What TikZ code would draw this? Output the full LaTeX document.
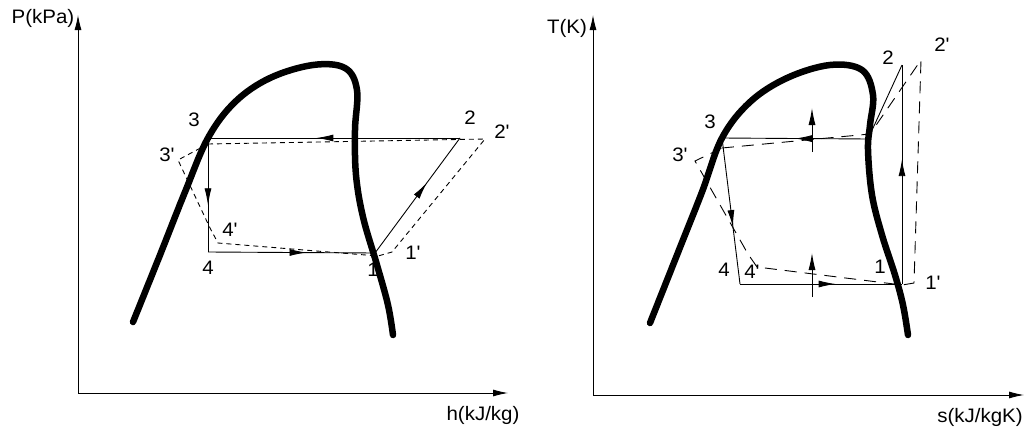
\documentclass[tikz,border=0pt]{standalone}
\usepackage{fontspec}
\setmainfont{Liberation Sans}
\usetikzlibrary{arrows.meta,decorations.markings}
\newcommand\pr{\textquotesingle}
\tikzset{
  lbl/.style={font=\fontsize{19.5}{23}\selectfont, xscale=1.05, inner sep=0pt},
  axis/.style={-{Latex[length=15pt,width=7pt]}, line width=0.9pt},
  dome/.style={line width=6.5pt, line cap=round},
  cyc/.style={line width=0.9pt},
  cycshort/.style={line width=0.9pt, dash pattern=on 5pt off 4pt},
  cyclong/.style={line width=0.9pt, dash pattern=on 12pt off 8pt},
  midarrow/.style={postaction={decorate}, decoration={markings,
      mark=at position #1 with {\arrow{Latex[length=17pt,width=7pt]}}}},
  heat/.style={-{Latex[length=17pt,width=7pt]}, line width=0.9pt}
}
\begin{document}
\begin{tikzpicture}[x=1pt, y=-1pt]
    \useasboundingbox (0,0) rectangle (1031,431);

    % 1. P-h diagram
    % axes
    \coordinate (oP) at (78,393);
    \coordinate (topP) at (78,15);
    \coordinate (endP) at (508,393);
    \draw[axis] (oP) -- (topP);
    \draw[axis] (oP) -- (endP);
    \node[lbl] (labP) at (43,18) {P(kPa)};
    \node[lbl] (labh) at (483,415) {h(kJ/kg)};

    % cycle points
    \coordinate (a1) at (375,253);
    \coordinate (a2) at (460,138);
    \coordinate (a3) at (208,138);
    \coordinate (a4) at (208,252);
    \node[lbl] (n1) at (373,270) {1};
    \node[lbl] (n2) at (470,118) {2};
    \node[lbl] (n3) at (194,120) {3};
    \node[lbl] (n4) at (208,268) {4};
    \node[lbl] (n1p) at (413,253) {1\pr};
    \node[lbl] (n2p) at (502,132) {2\pr};
    \node[lbl] (n3p) at (167,155) {3\pr};
    \node[lbl] (n4p) at (230,230) {4\pr};

    % real cycle (dashed)
    \draw[cycshort] (208,144) -- (485,139) -- (392,252) -- (378,256)
        -- (218,243) -- (210,228) -- (178,160) -- cycle;

    % ideal cycle
    \draw[cyc, midarrow=0.57] (a2) -- (a3);
    \draw[cyc, midarrow=0.59] (a3) -- (a4);
    \draw[cyc, midarrow=0.59] (a4) -- (a1);
    \draw[cyc, midarrow=0.61] (a1) -- (a2);

    % saturation dome
    \draw[dome] plot[smooth, tension=0.6] coordinates {(133,322) (160,255)
        (185,192) (208,138) (235,102) (270,78) (313,65) (345,68) (357,90)
        (355,130) (356,175) (363,217) (377,265) (388,305) (393,335)};

    % 2. T-s diagram
    % axes
    \coordinate (oT) at (593,395);
    \coordinate (topT) at (593,15);
    \coordinate (endT) at (1024,395);
    \draw[axis] (oT) -- (topT);
    \draw[axis] (oT) -- (endT);
    \node[lbl] (labT) at (567,28) {T(K)};
    \node[lbl] (labs) at (980,417) {s(kJ/kgK)};

    % cycle points
    \coordinate (b1) at (902,284);
    \coordinate (b2) at (902,65);
    \coordinate (bg) at (868,139);
    \coordinate (b3) at (722,138);
    \coordinate (b4) at (740,284);
    \node[lbl] (m1) at (880,267) {1};
    \node[lbl] (m2) at (888,58) {2};
    \node[lbl] (m3) at (710,122) {3};
    \node[lbl] (m4) at (724,270) {4};
    \node[lbl] (m1p) at (933,283) {1\pr};
    \node[lbl] (m2p) at (942,45) {2\pr};
    \node[lbl] (m3p) at (680,155) {3\pr};
    \node[lbl] (m4p) at (752,272) {4\pr};

    % real cycle (dashed)
    \draw[cyclong] (722,148) -- (870,134) -- (921,60) -- (914,283)
        -- (902,285) -- (757,267) -- (748,254) -- (695,161) -- cycle;

    % ideal cycle
    \draw[cyc, midarrow=0.57] (b1) -- (b2);
    \draw[cyc] (b2) -- (bg);
    \draw[cyc, midarrow=0.5] (bg) -- (b3);
    \draw[cyc, midarrow=0.61] (b3) -- (b4);
    \draw[cyc, midarrow=0.59] (b4) -- (b1);

    % heat arrows
    \coordinate (qa) at (812,152);
    \coordinate (qb) at (812,108);
    \coordinate (qc) at (812,297);
    \coordinate (qd) at (812,253);
    \draw[heat] (qa) -- (qb);
    \draw[heat] (qc) -- (qd);

    % saturation dome
    \draw[dome] plot[smooth, tension=0.6] coordinates {(650,323) (677,255)
        (702,192) (722,138) (750,102) (787,78) (830,65) (862,70) (873,95)
        (870,125) (868,150) (872,195) (882,235) (895,275) (903,305) (908,335)};
\end{tikzpicture}
\end{document}
